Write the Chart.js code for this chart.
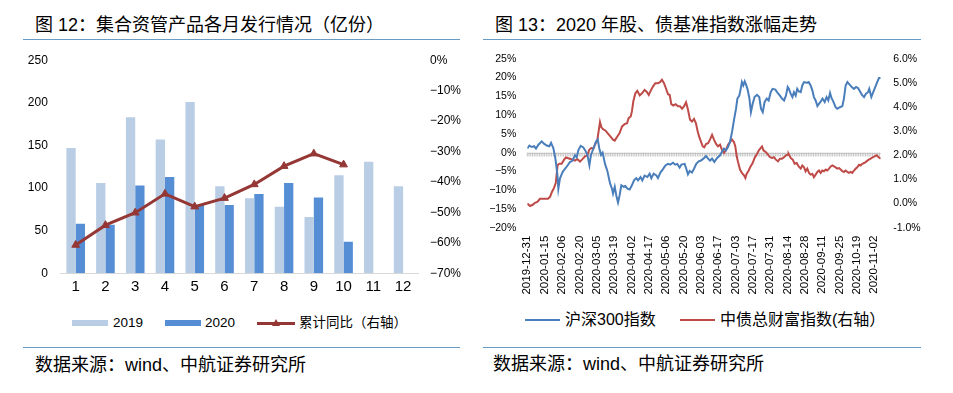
<!DOCTYPE html>
<html lang="zh-CN">
<head>
<meta charset="utf-8">
<title>集合资管产品发行与股债指数走势</title>
<script src="https://cdn.jsdelivr.net/npm/chart.js@4.4.1/dist/chart.umd.min.js"></script>
<style>
  html, body { margin: 0; padding: 0; background: #fff; }
  body { width: 953px; height: 393px; position: relative; overflow: hidden;
         font-family: "Liberation Sans", "Noto Sans CJK SC", sans-serif; color: #000; }
  .abs { position: absolute; white-space: nowrap; }
  .title { font-size: 18px; line-height: 18px; }
  .source { font-size: 18px; line-height: 18px; }
  .rule { position: absolute; height: 0; border-top: 1.5px solid #6A9BC3; }
  .swatch { position: absolute; }
  .tri { position: absolute; width: 0; height: 0; border-left: 4px solid transparent;
         border-right: 4px solid transparent; border-bottom: 7px solid #953735; }
  canvas { position: absolute; }
</style>
</head>
<body>

<!-- left panel -->
<div class="abs title" style="left:35px; top:16px;">图 12：集合资管产品各月发行情况（亿份）</div>
<div class="rule" style="left:23px; top:39px; width:437px;"></div>
<canvas id="issueChart" style="left:0; top:40px; width:475px; height:258px;" width="475" height="258"></canvas>

<div class="swatch" style="left:72px; top:320px; width:36px; height:6px; background:#B9CDE5;"></div>
<div class="abs" style="left:113px; top:315px; font-size:13.5px; line-height:16px;">2019</div>
<div class="swatch" style="left:165px; top:320px; width:36px; height:6px; background:#558ED5;"></div>
<div class="abs" style="left:205px; top:315px; font-size:13.5px; line-height:16px;">2020</div>
<div class="swatch" style="left:257px; top:321.5px; width:38px; height:3px; background:#953735;"></div>
<div class="tri" style="left:272px; top:319px;"></div>
<div class="abs" style="left:299px; top:315px; font-size:13.5px; line-height:16px;">累计同比（右轴）</div>

<div class="rule" style="left:23px; top:346.5px; width:437px;"></div>
<div class="abs source" style="left:35px; top:356px;">数据来源：wind、中航证券研究所</div>

<!-- right panel -->
<div class="abs title" style="left:495px; top:16px;">图 13：2020 年股、债基准指数涨幅走势</div>
<div class="rule" style="left:483px; top:39px; width:438px;"></div>
<canvas id="indexChart" style="left:480px; top:40px; width:473px; height:258px;" width="473" height="258"></canvas>

<div class="swatch" style="left:525px; top:319px; width:35px; height:2px; background:#4A7EBB;"></div>
<div class="abs" style="left:565px; top:311px; font-size:16px; line-height:18px;">沪深300指数</div>
<div class="swatch" style="left:680px; top:319px; width:35px; height:2px; background:#BE4B48;"></div>
<div class="abs" style="left:720px; top:311px; font-size:16px; line-height:18px;">中债总财富指数(右轴）</div>

<div class="rule" style="left:483px; top:346.5px; width:438px;"></div>
<div class="abs source" style="left:493px; top:355px;">数据来源：wind、中航证券研究所</div>

<script>
// 图12 data: monthly issuance (亿份) and cumulative yoy (%)
const months = ['1', '2', '3', '4', '5', '6', '7', '8', '9', '10', '11', '12'];
const issue2019 = [147, 106, 183, 157, 201, 102, 88, 78, 66, 115, 131, 102];
const issue2020 = [58, 57, 103, 113, 80, 80, 93, 106, 89, 37, null, null];
const yoyCum = [-60.7, -54.2, -50.1, -43.9, -48.1, -45.3, -40.8, -34.8, -30.7, -34.3, null, null];

// 图13 data: x = trading day since 2019-12-31, tick label every 10 trading days
const dateTicks = ['2019-12-31', '2020-01-15', '2020-02-06', '2020-02-20', '2020-03-05', '2020-03-19',
  '2020-04-02', '2020-04-17', '2020-05-06', '2020-05-20', '2020-06-03', '2020-06-17', '2020-07-03',
  '2020-07-17', '2020-07-31', '2020-08-14', '2020-08-28', '2020-09-11', '2020-09-25', '2020-10-19',
  '2020-11-02'];

// 沪深300 cumulative change (%), left axis
const hsDay = [0, 1.2, 2.5, 3.9, 5.0, 6.4, 8.3, 9.6, 11.2, 12.7, 13.7, 15.0, 16.2, 17.3, 17.9, 18.8,
  20.4, 21.7, 23.1, 24.6, 26.1, 27.5, 28.5, 29.4, 30.8, 32.3, 33.4, 34.6, 35.8, 36.7, 38.1, 39.6,
  40.6, 41.5, 42.5, 43.4, 44.8, 46.1, 47.7, 48.8, 49.4, 50.4, 51.3, 52.3, 53.2, 54.2, 55.5, 56.5,
  57.7, 59.0, 60.3, 61.5, 62.8, 63.8, 65.3, 66.3, 67.6, 69.2, 70.5, 71.5, 72.8, 74.4, 75.3, 76.7,
  78.2, 79.6, 81.1, 82.4, 84.0, 85.3, 86.5, 87.8, 88.8, 90.7, 91.9, 92.6, 93.6, 94.9, 96.1, 97.4,
  98.8, 100.1, 101.5, 103.0, 104.2, 105.3, 106.5, 107.8, 108.8, 109.9, 111.1, 112.2, 113.4, 114.5,
  115.7, 116.8, 118.0, 119.1, 120.3, 121.1, 122.2, 123.0, 123.7, 124.5, 125.3, 126.1, 127.0, 128.0,
  128.9, 129.9, 131.0, 132.4, 133.7, 134.7, 135.7, 136.8, 138.0, 139.1, 140.3, 141.4, 143.0, 144.3,
  145.6, 146.8, 148.0, 149.1, 150.1, 150.8, 151.8, 152.8, 153.7, 154.7, 155.6, 156.6, 157.6, 158.5,
  159.5, 161.0, 162.2, 163.3, 164.3, 165.2, 166.2, 167.2, 168.1, 169.1, 170.2, 171.4, 172.5, 173.5,
  174.5, 175.4, 176.4, 177.7, 178.7, 180.2, 181.6, 182.5, 183.5, 184.5, 185.8, 187.0, 188.3, 189.5,
  190.6, 191.8, 192.9, 194.1, 195.2, 196.4, 197.1, 198.3, 199.4, 200.6, 201.7, 202.7, 203.7];
const hsPct = [1.1, 1.9, 1.5, 1.7, 1.1, 2.1, 3.0, 2.4, 1.9, 1.7, 2.6, 1.2, -1.6, -5.6, -9.6, -6.9,
  -5.1, -4.3, -3.5, -2.5, -2.1, -0.7, -1.2, 0.6, 1.8, 1.4, 0.6, -0.5, -3.4, -0.6, 1.1, 2.9,
  3.5, 1.1, -0.6, 0, -3.0, -4.8, -8.2, -9.6, -10.9, -9.1, -11.4, -13.3, -11.4, -8.7, -9.1, -8.9,
  -9.6, -9.8, -8.7, -7.4, -6.8, -7.4, -6.5, -7.4, -6.1, -6.5, -5.6, -6.8, -5.6, -6.1, -6.8, -5.3,
  -4.4, -3.4, -3.0, -3.2, -2.7, -3.2, -3.0, -4.0, -3.2, -3.0, -4.7, -5.8, -4.9, -5.3, -4.3, -3.0,
  -2.3, -2.1, -1.6, -0.9, -1.6, -2.1, -1.6, -2.5, -1.8, -1.2, -0.7, 0.2, 1.1, 0.6,
  1.5, 2.8, 5.5, 8.6, 11.7, 14.4, 15.2, 17.0, 18.8, 17.9, 19.0, 18.1, 16.8, 14.5,
  10.8, 13.0, 14.8, 15.4, 14.8, 11.7, 10.8, 13.5, 14.4, 13.9, 16.1, 17.0, 16.8, 15.9,
  15.2, 14.4, 13.9, 15.2, 17.5, 17.0, 15.7, 14.8, 16.1, 15.2, 17.0, 16.3, 16.1, 17.9,
  18.8, 18.6, 18.8, 17.9, 16.6, 14.8, 13.9, 12.4, 13.0, 13.6, 14.4, 13.5, 14.8, 13.9,
  15.9, 14.5, 13.6, 12.1, 11.7, 12.1, 12.4, 14.4, 17.9, 18.8, 18.1, 17.5, 17.0, 17.5,
  17.2, 16.3, 15.4, 14.8, 15.7, 16.1, 17.0, 14.8, 16.1, 17.5, 18.8, 19.9, 19.9];

// 中债总财富指数 cumulative change (%), right axis
const bondDay = [0, 1.6, 3.1, 4.4, 5.8, 7.3, 8.9, 10.4, 11.9, 13.1, 14.2, 15.4, 16.4, 16.9, 17.5,
  18.5, 19.8, 21.2, 22.3, 23.6, 25.0, 26.1, 27.5, 28.8, 30.4, 31.9, 33.3, 34.6, 35.8, 36.9, 38.1,
  39.2, 40.4, 41.1, 41.9, 42.7, 43.8, 45.0, 46.5, 48.1, 49.4, 50.4, 51.9, 53.2, 54.6, 56.1, 57.5,
  58.4, 59.6, 60.3, 61.1, 62.3, 63.4, 64.8, 66.1, 67.6, 68.8, 70.0, 71.1, 72.4, 73.8, 75.3, 76.5,
  77.6, 78.8, 79.9, 81.1, 82.1, 83.0, 84.2, 85.5, 86.9, 88.0, 89.2, 90.3, 91.5, 92.6, 93.8, 94.9,
  96.1, 97.2, 98.2, 99.2, 100.1, 101.1, 102.0, 103.0, 104.2, 105.3, 106.5, 107.6, 108.8, 109.9,
  111.1, 112.2, 113.4, 114.5, 115.7, 116.8, 118.0, 119.1, 119.9, 120.7, 121.4, 122.6, 123.7, 124.9,
  125.7, 126.4, 127.6, 128.7, 129.9, 131.0, 132.2, 133.4, 134.5, 135.3, 136.2, 137.6, 138.7, 139.9,
  141.0, 142.2, 143.3, 144.5, 145.6, 146.8, 148.0, 149.1, 150.3, 150.6, 151.8, 153.0, 154.1, 155.3,
  156.4, 157.6, 158.5, 159.5, 160.4, 161.4, 162.4, 163.3, 164.3, 165.2, 166.2, 167.2, 168.1, 169.1,
  170.0, 171.0, 172.0, 172.9, 173.9, 174.9, 175.8, 176.8, 177.7, 178.7, 179.7, 180.6, 181.6, 182.5,
  183.5, 184.5, 185.4, 186.4, 187.3, 188.3, 189.3, 190.2, 191.2, 192.1, 193.1, 194.1, 195.0, 196.0,
  196.9, 197.9, 199.1, 200.2, 201.4, 202.5, 203.7];
const bondPct = [0.0, -0.1, -0.05, 0.03, 0.07, 0.2, 0.2, 0.2, 0.2, 0.28, 0.48, 0.65, 0.85, 1.2, 1.6,
  1.65, 1.65, 1.82, 1.91, 1.88, 1.85, 1.82, 1.78, 1.85, 1.74, 1.85, 1.96, 2.0, 2.24, 2.3, 2.28,
  2.47, 2.65, 2.99, 3.38, 3.16, 3.07, 3.03, 2.9, 2.76, 2.65, 2.61, 2.78, 2.92, 3.2, 3.29, 3.33,
  3.54, 3.61, 3.82, 4.23, 4.57, 4.67, 4.48, 4.57, 4.71, 4.64, 4.5, 4.67, 4.85, 4.99, 4.99, 5.03,
  5.13, 4.99, 4.78, 4.53, 4.5, 4.12, 4.06, 4.12, 4.03, 4.03, 3.93, 4.03, 4.2, 3.9, 3.47, 3.4,
  3.51, 3.33, 3.0, 2.74, 2.57, 2.37, 2.33, 2.47, 2.5, 2.65, 2.85, 2.65, 2.47, 2.37,
  2.44, 2.23, 2.1, 2.23, 2.44, 2.55, 2.65, 2.55, 2.37, 1.96, 1.74, 1.41, 1.27, 1.17,
  1.06, 1.23, 1.37, 1.54, 1.68, 1.89, 2.03, 2.2, 2.3, 2.37, 2.2, 2.13, 2.03, 1.92,
  1.89, 1.92, 1.82, 1.75, 1.86, 1.86, 1.92, 2.0, 2.03, 2.06, 1.89, 1.82, 1.65, 1.68,
  1.54, 1.45, 1.58, 1.5, 1.34, 1.45, 1.27, 1.2, 1.23, 1.09, 1.2, 1.31, 1.37, 1.27,
  1.37, 1.34, 1.41, 1.37, 1.45, 1.54, 1.58, 1.54, 1.5, 1.45, 1.47, 1.41, 1.34, 1.31,
  1.37, 1.31, 1.27, 1.31, 1.27, 1.37, 1.45, 1.5, 1.61, 1.58, 1.65, 1.68, 1.72, 1.78,
  1.82, 1.86, 1.92, 1.96, 2.0, 1.92, 1.86];

Chart.defaults.font.family = '"Liberation Sans", "Noto Sans CJK SC", sans-serif';
Chart.defaults.color = '#000';
Chart.defaults.animation = false;

// force axis sizes so the plot areas line up with the reference
const fixWidth = w => scale => { scale.width = w; };
const fixHeight = h => scale => { scale.height = h; };
const minusPct = v => (v < 0 ? '−' + Math.abs(v) : v) + '%';

new Chart(document.getElementById('issueChart'), {
  data: {
    labels: months,
    datasets: [
      {
        type: 'line', label: '累计同比（右轴）', data: yoyCum, yAxisID: 'yRight', order: 0,
        borderColor: '#953735', backgroundColor: '#953735', borderWidth: 3,
        pointStyle: 'triangle', pointRadius: 4.5, pointBorderWidth: 1, tension: 0
      },
      { type: 'bar', label: '2019', data: issue2019, yAxisID: 'yLeft', order: 1, backgroundColor: '#B9CDE5',
        categoryPercentage: 0.625, barPercentage: 1 },
      { type: 'bar', label: '2020', data: issue2020, yAxisID: 'yLeft', order: 1, backgroundColor: '#558ED5',
        categoryPercentage: 0.625, barPercentage: 1 }
    ]
  },
  options: {
    responsive: false,
    layout: { padding: { top: 12.6, left: 0, right: 0, bottom: 0 } },
    plugins: { legend: { display: false }, tooltip: { enabled: false } },
    scales: {
      x: {
        offset: true,
        grid: { display: false, drawTicks: false },
        border: { display: true, color: '#D9D9D9', width: 1 },
        ticks: { font: { size: 15 }, padding: 5 },
        afterFit: fixHeight(24.7)
      },
      yLeft: {
        position: 'left', min: 0, max: 250,
        grid: { display: false, drawTicks: false }, border: { display: false },
        ticks: { stepSize: 50, font: { size: 12 }, padding: 13 },
        afterFit: fixWidth(60.8)
      },
      yRight: {
        position: 'right', min: -70, max: 0,
        grid: { display: false, drawTicks: false }, border: { display: false },
        ticks: { stepSize: 10, font: { size: 12 }, padding: 12, callback: minusPct },
        afterFit: fixWidth(57)
      }
    }
  }
});

// grey zero axis with a tick for every trading day
const zeroAxis = {
  id: 'zeroAxis',
  beforeDatasetsDraw(chart) {
    const { ctx, chartArea, scales } = chart;
    const y = Math.round(scales.yLeft.getPixelForValue(0)) + 0.5;
    ctx.save();
    ctx.strokeStyle = '#C4C4C4';
    ctx.lineWidth = 1;
    ctx.beginPath();
    ctx.moveTo(chartArea.left, y);
    ctx.lineTo(chartArea.right, y);
    for (let d = 0; d <= scales.x.max; d++) {
      const x = scales.x.getPixelForValue(d);
      ctx.moveTo(x, y - 1);
      ctx.lineTo(x, y + 3);
    }
    ctx.stroke();
    ctx.restore();
  }
};

new Chart(document.getElementById('indexChart'), {
  type: 'line',
  data: {
    datasets: [
      {
        label: '沪深300指数', yAxisID: 'yLeft',
        data: hsDay.map((d, i) => ({ x: d, y: hsPct[i] })),
        borderColor: '#4A7EBB', borderWidth: 2, pointRadius: 0, tension: 0
      },
      {
        label: '中债总财富指数(右轴）', yAxisID: 'yRight',
        data: bondDay.map((d, i) => ({ x: d, y: bondPct[i] })),
        borderColor: '#BE4B48', borderWidth: 2, pointRadius: 0, tension: 0
      }
    ]
  },
  options: {
    responsive: false,
    layout: { padding: { top: 18.3, left: 0, right: 0, bottom: 0 } },
    plugins: { legend: { display: false }, tooltip: { enabled: false } },
    scales: {
      x: {
        type: 'linear', min: 0, max: hsDay[hsDay.length - 1],
        grid: { display: false, drawTicks: false }, border: { display: false },
        ticks: {
          stepSize: 10, autoSkip: false, includeBounds: false,
          minRotation: 90, maxRotation: 90, padding: 8, font: { size: 11.5 },
          callback: v => dateTicks[v / 10] ?? ''
        },
        afterFit: fixHeight(70.3)
      },
      yLeft: {
        position: 'left', min: -20, max: 25,
        grid: { display: false, drawTicks: false }, border: { display: false },
        ticks: { stepSize: 5, font: { size: 10.5 }, padding: 11, callback: minusPct },
        afterFit: fixWidth(47.3)
      },
      yRight: {
        position: 'right', min: -1, max: 6,
        grid: { display: false, drawTicks: false }, border: { display: false },
        ticks: { stepSize: 1, font: { size: 10.5 }, padding: 12.5, callback: v => v.toFixed(1) + '%' },
        afterFit: fixWidth(72.3)
      }
    }
  },
  plugins: [zeroAxis]
});
</script>
</body>
</html>
